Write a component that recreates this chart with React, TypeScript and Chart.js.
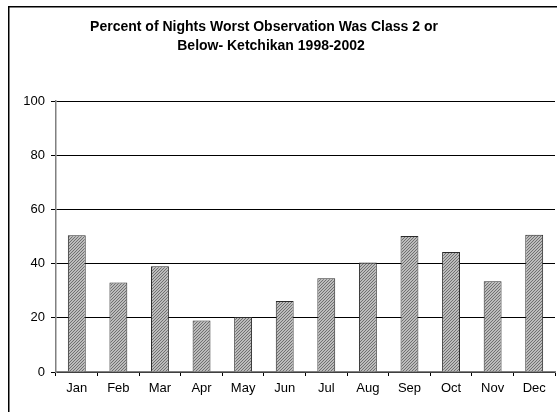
import React, { useEffect, useRef } from "react";
import { Chart, registerables } from "chart.js";

Chart.register(...registerables);

const titleLines = ["Percent of Nights Worst Observation Was Class 2 or", "Below- Ketchikan 1998-2002"];
const months = ["Jan", "Feb", "Mar", "Apr", "May", "Jun", "Jul", "Aug", "Sep", "Oct", "Nov", "Dec"];
const percentValues = [50.5, 33, 39, 19, 20.3, 26.2, 34.6, 40.4, 50.2, 44.3, 33.5, 50.6];
const yMin = 0;
const yMax = 100;
const yStep = 20;

const FONT = "'Liberation Sans', Arial, sans-serif";

function makePattern(): CanvasPattern | string {
  const c = document.createElement("canvas");
  c.width = 3;
  c.height = 3;
  const g = c.getContext("2d");
  if (!g) return "#a0a0a0";
  const img = g.createImageData(3, 3);
  for (let y = 0; y < 3; y++) {
    for (let x = 0; x < 3; x++) {
      const onLine = (x + y) % 3 === 2;
      const v = onLine ? 112 : 188;
      const i = (y * 3 + x) * 4;
      img.data[i] = v;
      img.data[i + 1] = v;
      img.data[i + 2] = v;
      img.data[i + 3] = 255;
    }
  }
  g.putImageData(img, 0, 0);
  const p = g.createPattern(c, "repeat");
  return p || "#a0a0a0";
}

const framePlugin = {
  id: "frame",
  beforeDraw(chart: any) {
    const ctx = chart.ctx;
    ctx.save();
    ctx.fillStyle = "#ffffff";
    ctx.fillRect(0, 0, chart.width, chart.height);
    ctx.strokeStyle = "#000000";
    ctx.lineWidth = 1.5;
    ctx.strokeRect(8.75, 6.75, chart.width + 20, chart.height + 20);
    ctx.restore();
  },
  afterDraw(chart: any) {
    const ctx = chart.ctx;
    ctx.save();
    ctx.fillStyle = "#000000";
    ctx.font = `bold 14px ${FONT}`;
    ctx.textAlign = "center";
    ctx.textBaseline = "middle";
    ctx.fillText(titleLines[0], 264, 27.5);
    ctx.fillText(titleLines[1], 271, 46.5);
    ctx.restore();
  },
};

export default function App() {
  const ref = useRef<HTMLCanvasElement | null>(null);

  useEffect(() => {
    document.body.style.margin = "0";
    if (!ref.current) return;
    const fill = makePattern();
    const chart = new Chart(ref.current, {
      type: "bar",
      data: {
        labels: months,
        datasets: [
          {
            data: percentValues,
            backgroundColor: fill as any,
            borderColor: "#2a2a2a",
            borderWidth: 1,
            borderSkipped: "bottom",
            categoryPercentage: 0.86,
            barPercentage: 0.5,
          },
        ],
      },
      options: {
        animation: false,
        responsive: true,
        maintainAspectRatio: false,
        layout: { padding: { top: 101, left: 8, right: 2, bottom: 0 } },
        plugins: {
          legend: { display: false },
          tooltip: { enabled: false },
          title: { display: false },
        },
        scales: {
          x: {
            offset: true,
            grid: {
              offset: true,
              drawOnChartArea: false,
              drawTicks: true,
              tickLength: 4,
              color: "#000000",
            },
            border: { display: true, color: "#808080", width: 1.5 },
            ticks: {
              color: "#000000",
              font: { family: FONT, size: 13 },
              padding: 5,
              maxRotation: 0,
              autoSkip: false,
            },
            afterFit(scale: any) {
              scale.height = 40;
            },
          },
          y: {
            min: yMin,
            max: yMax,
            grid: {
              color: "#000000",
              lineWidth: 1,
              tickLength: 5,
              drawTicks: true,
            },
            border: { display: true, color: "#808080", width: 1.5 },
            ticks: {
              stepSize: yStep,
              color: "#000000",
              font: { family: FONT, size: 13 },
              padding: 6,
            },
            afterFit(scale: any) {
              scale.width = 48;
            },
          },
        },
      },
      plugins: [framePlugin],
    });
    return () => chart.destroy();
  }, []);

  return (
    <div style={{ position: "fixed", left: 0, top: 0, width: 557, height: 412 }}>
      <canvas ref={ref} />
    </div>
  );
}
